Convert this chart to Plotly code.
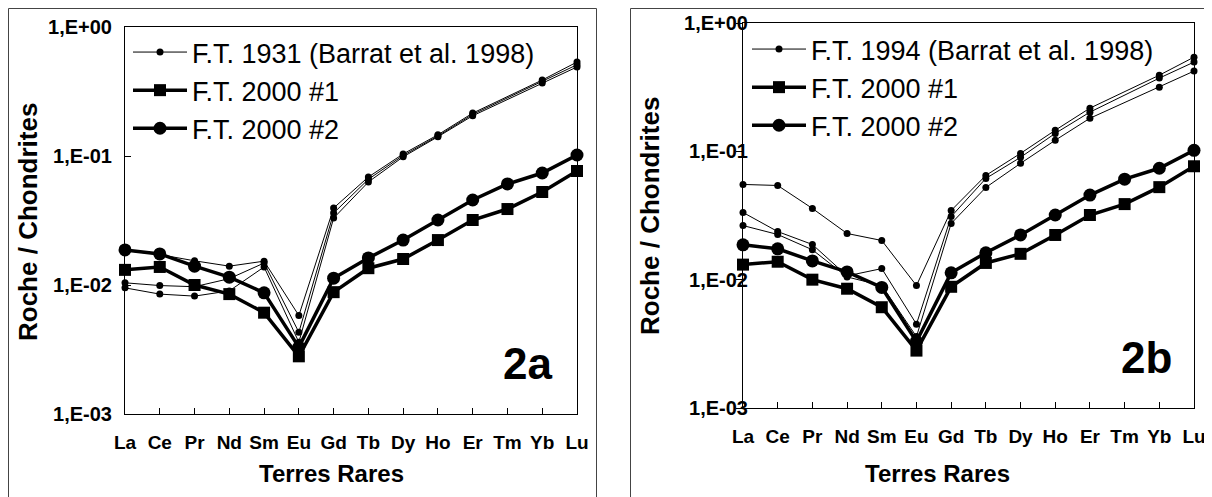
import plotly.graph_objects as go

# ---------------- data ----------------
REE = ["La", "Ce", "Pr", "Nd", "Sm", "Eu", "Gd", "Tb", "Dy", "Ho", "Er", "Tm", "Yb", "Lu"]

# F.T. 2000 analyses (same in both panels)
ft2000_1 = [0.0131, 0.0138, 0.0100, 0.0085, 0.0061, 0.0028, 0.0088, 0.0135, 0.0159, 0.0223, 0.0319, 0.0388, 0.0526, 0.0765]
ft2000_2 = [0.0187, 0.0174, 0.0140, 0.0115, 0.0087, 0.0033, 0.0113, 0.0162, 0.0223, 0.0319, 0.0456, 0.0607, 0.0738, 0.1018]

# F.T. 1931 (Barrat et al. 1998) - panel 2a (Tm not analysed)
ft1931_a = [0.0185, 0.0172, 0.0154, 0.0140, 0.0153, 0.0058, 0.0395, 0.0687, 0.1037, 0.146, 0.215, None, 0.388, 0.535]
ft1931_b = [0.0104, 0.0099, 0.0097, 0.0112, 0.0148, 0.0043, 0.0361, 0.0660, 0.1010, 0.143, 0.210, None, 0.380, 0.510]
ft1931_c = [0.0095, 0.0085, 0.0082, 0.0090, 0.0138, 0.0036, 0.0330, 0.0629, 0.0985, 0.141, 0.205, None, 0.368, 0.490]

# F.T. 1994 (Barrat et al. 1998) - panel 2b (Tm not analysed)
ft1994_a = [0.0552, 0.0542, 0.0359, 0.0229, 0.0202, 0.0090, 0.0346, 0.0649, 0.0964, 0.146, 0.217, None, 0.392, 0.542]
ft1994_b = [0.0334, 0.0237, 0.0188, 0.0107, 0.0122, 0.0045, 0.0310, 0.0615, 0.0898, 0.138, 0.202, None, 0.372, 0.496]
ft1994_c = [0.0264, 0.0225, 0.0171, 0.0105, 0.0090, 0.0036, 0.0274, 0.0523, 0.0806, 0.122, 0.181, None, 0.316, 0.422]

y_tickvals = [0.001, 0.01, 0.1, 1]
y_ticktext = ["1,E-03", "1,E-02", "1,E-01", "1,E+00"]

FONT = "Liberation Sans, Arial, sans-serif"
# the page body has an 8 px margin, so the figure is 8 px smaller and all
# window-pixel positions below are shifted by 8 px
OFF = 8
W, H = 1212 - OFF, 497 - OFF


def px(x):
    return (x - OFF) / W


def py(y):
    return 1 - (y - OFF) / H


fig = go.Figure()


def thin(y, name, xa, ya, leg, show):
    fig.add_trace(go.Scatter(
        x=REE, y=y, name=name, mode="lines+markers", connectgaps=True,
        line=dict(color="black", width=1),
        marker=dict(symbol="circle", size=7, color="black"),
        xaxis=xa, yaxis=ya, legend=leg, legendgroup=leg + "thin",
        showlegend=show, cliponaxis=False))


def thick(y, name, sym, size, xa, ya, leg, grp):
    fig.add_trace(go.Scatter(
        x=REE, y=y, name=name, mode="lines+markers",
        line=dict(color="black", width=3.5),
        marker=dict(symbol=sym, size=size, color="black"),
        xaxis=xa, yaxis=ya, legend=leg, legendgroup=leg + grp,
        showlegend=True, cliponaxis=False))


# panel 2a
thin(ft1931_a, "F.T. 1931 (Barrat et al. 1998)", "x", "y", "legend", True)
thin(ft1931_b, "F.T. 1931 (Barrat et al. 1998)", "x", "y", "legend", False)
thin(ft1931_c, "F.T. 1931 (Barrat et al. 1998)", "x", "y", "legend", False)
thick(ft2000_1, "F.T. 2000 #1", "square", 12, "x", "y", "legend", "s1")
thick(ft2000_2, "F.T. 2000 #2", "circle", 13, "x", "y", "legend", "s2")

# panel 2b
thin(ft1994_a, "F.T. 1994 (Barrat et al. 1998)", "x2", "y2", "legend2", True)
thin(ft1994_b, "F.T. 1994 (Barrat et al. 1998)", "x2", "y2", "legend2", False)
thin(ft1994_c, "F.T. 1994 (Barrat et al. 1998)", "x2", "y2", "legend2", False)
thick(ft2000_1, "F.T. 2000 #1", "square", 12, "x2", "y2", "legend2", "s1")
thick(ft2000_2, "F.T. 2000 #2", "circle", 13, "x2", "y2", "legend2", "s2")


def xaxis(dom, anchor):
    return dict(domain=dom, anchor=anchor, type="category", categoryarray=REE,
                range=[0, 13], showline=True, linecolor="black", linewidth=1,
                mirror=True, ticks="inside", ticklen=6, tickcolor="black",
                tickfont=dict(family=FONT, size=19, color="black", weight="bold"),
                ticklabelstandoff=11, showgrid=False, zeroline=False,
                fixedrange=True, automargin=False)


def yaxis(dom, anchor, tickpos, standoff):
    return dict(domain=dom, anchor=anchor, type="log", range=[-3, 0],
                tickvals=y_tickvals, ticktext=y_ticktext,
                showline=True, linecolor="black", linewidth=1, mirror=True,
                ticks=tickpos, ticklen=6, tickcolor="black",
                tickfont=dict(family=FONT, size=20, color="black", weight="bold"),
                ticklabelstandoff=standoff, showgrid=False, zeroline=False,
                fixedrange=True, automargin=False)


leg_font = dict(family=FONT, size=27, color="black")
fig.update_layout(
    width=W, height=H, margin=dict(l=0, r=0, t=0, b=0, autoexpand=False),
    paper_bgcolor="white", plot_bgcolor="white",
    font=dict(family=FONT, color="black"),
    xaxis=xaxis([px(125), px(577)], "y"),
    yaxis=yaxis([py(414), py(27)], "x", "inside", 8),
    xaxis2=xaxis([px(743), px(1194)], "y2"),
    yaxis2=yaxis([py(408), py(23)], "x2", "outside", -16),
    legend=dict(x=px(128), y=py(28), xanchor="left", yanchor="top",
                bgcolor="rgba(0,0,0,0)", borderwidth=0, itemwidth=54,
                tracegroupgap=0, font=leg_font),
    legend2=dict(x=px(747), y=py(25), xanchor="left", yanchor="top",
                 bgcolor="rgba(0,0,0,0)", borderwidth=0, itemwidth=54,
                 tracegroupgap=0, font=leg_font),
    showlegend=True,
)

# panel frames
fig.add_shape(type="rect", xref="paper", yref="paper", x0=px(8.5), x1=px(596.5),
              y0=-0.05, y1=py(8.5), line=dict(color="#444", width=1), layer="below")
fig.add_shape(type="rect", xref="paper", yref="paper", x0=px(630.5), x1=px(1209.5),
              y0=-0.05, y1=py(8.5), line=dict(color="#444", width=1), layer="below")

# axis titles & panel labels
ann_font_b = dict(family=FONT, size=24, color="black", weight="bold")
ytitle_font = dict(family=FONT, size=26, color="black", weight="bold")
fig.add_annotation(text="Roche / Chondrites", xref="paper", yref="paper",
                   x=px(28), y=py(222), xanchor="center", yanchor="middle",
                   textangle=-90, showarrow=False, font=ytitle_font)
fig.add_annotation(text="Roche / Chondrites", xref="paper", yref="paper",
                   x=px(650), y=py(216), xanchor="center", yanchor="middle",
                   textangle=-90, showarrow=False, font=ytitle_font)
fig.add_annotation(text="Terres Rares", xref="paper", yref="paper",
                   x=px(331), y=py(473), xanchor="center", yanchor="middle",
                   showarrow=False, font=ann_font_b)
fig.add_annotation(text="Terres Rares", xref="paper", yref="paper",
                   x=px(937), y=py(473), xanchor="center", yanchor="middle",
                   showarrow=False, font=ann_font_b)
fig.add_annotation(text="2a", xref="x domain", yref="y domain", x=0.89, y=0.13,
                   xanchor="center", yanchor="middle", showarrow=False,
                   font=dict(family=FONT, size=44, color="black", weight="bold"))
fig.add_annotation(text="2b", xref="x2 domain", yref="y2 domain", x=0.894, y=0.132,
                   xanchor="center", yanchor="middle", showarrow=False,
                   font=dict(family=FONT, size=44, color="black", weight="bold"))

fig.write_html("out.html")
